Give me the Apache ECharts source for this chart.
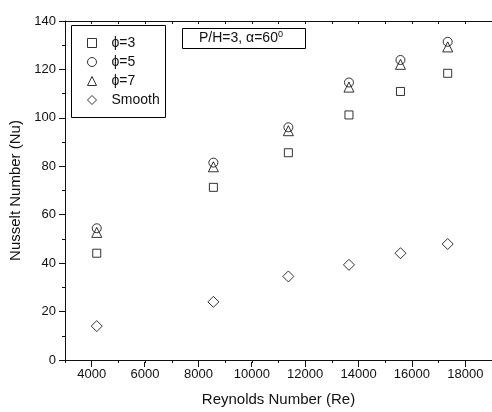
<!DOCTYPE html>
<html>
<head>
<meta charset="utf-8">
<script src="https://cdn.jsdelivr.net/npm/echarts@6/dist/echarts.min.js"></script>
<style>
  html, body { margin: 0; padding: 0; background: #fff; }
  #chart { width: 492px; height: 412px; }
</style>
</head>
<body>
<div id="chart"></div>
<script>
// ---- data ----
const reynolds = [4190, 8560, 11370, 13640, 15570, 17340];
const phi3 = [44.1, 71.3, 85.6, 101.2, 110.9, 118.4];
const phi5 = [54.4, 81.5, 96.1, 114.6, 123.9, 131.4];
const phi7 = [52.7, 79.8, 94.7, 112.7, 122.1, 129.3];
const smooth = [14.0, 24.0, 34.5, 39.3, 44.1, 47.9];
const seriesNames = ['\u03D5=3', '\u03D5=5', '\u03D5=7', 'Smooth'];
const xMajorTicks = [4000, 6000, 8000, 10000, 12000, 14000, 16000, 18000];

const FONT = 'Liberation Sans, Arial, sans-serif';
const INK = '#111';

function pairs(ys) { return reynolds.map((x, i) => [x, ys[i]]); }

const chart = echarts.init(document.getElementById('chart'), null, { renderer: 'canvas' });

const markerStyle = { color: 'rgba(0,0,0,0)', borderColor: '#000', borderWidth: 1 };

const grid = { left: 64, right: 0, top: 21, bottom: 50 };

chart.setOption({
  animation: false,
  backgroundColor: '#fff',
  textStyle: { fontFamily: FONT },
  grid: [Object.assign({}, grid), Object.assign({}, grid)],
  xAxis: [
    {
      gridIndex: 0, type: 'value', position: 'bottom',
      min: 3000, max: 19000, interval: 1000,
      axisLine: { show: true, lineStyle: { color: INK, width: 1 } },
      axisTick: { show: true, inside: false, length: 3, lineStyle: { color: INK } },
      axisLabel: { show: true, customValues: xMajorTicks, color: INK, fontSize: 13, fontFamily: FONT, margin: 8,
                   formatter: v => String(v) },
      splitLine: { show: false },
      name: 'Reynolds Number (Re)', nameLocation: 'middle', nameGap: 32,
      nameTextStyle: { color: INK, fontSize: 15, fontFamily: FONT }
    },
    {
      gridIndex: 0, type: 'value', position: 'top',
      min: 3000, max: 19000, interval: 1000,
      axisLine: { show: true, lineStyle: { color: INK, width: 1 } },
      axisTick: { show: true, inside: true, length: 3, lineStyle: { color: INK } },
      axisLabel: { show: false },
      splitLine: { show: false }
    },
    {
      gridIndex: 1, type: 'value', position: 'bottom',
      min: 3000, max: 19000,
      axisLine: { show: false },
      axisTick: { show: true, inside: false, length: 5, customValues: xMajorTicks, lineStyle: { color: INK } },
      axisLabel: { show: false },
      splitLine: { show: false }
    }
  ],
  yAxis: [
    {
      gridIndex: 0, type: 'value',
      min: 0, max: 140, interval: 20,
      axisLine: { show: true, lineStyle: { color: INK, width: 1 } },
      axisTick: { show: true, inside: false, length: 6, lineStyle: { color: INK } },
      minorTick: { show: true, splitNumber: 2, length: 3, lineStyle: { color: INK } },
      axisLabel: { color: INK, fontSize: 13, fontFamily: FONT, margin: 9 },
      splitLine: { show: false },
      name: 'Nusselt Number (Nu)', nameLocation: 'middle', nameGap: 42,
      nameTextStyle: { color: INK, fontSize: 15, fontFamily: FONT }
    },
    {
      gridIndex: 1, type: 'value', min: 0, max: 140, show: false
    }
  ],
  legend: {
    orient: 'vertical', left: 87, top: 36,
    itemWidth: 9, itemHeight: 9, itemGap: 5, padding: 0,
    data: seriesNames,
    itemStyle: { color: 'rgba(0,0,0,0)', borderColor: '#000', borderWidth: 1 },
    textStyle: { color: INK, fontSize: 14, fontFamily: FONT, padding: [0, 0, 0, 10] }
  },
  graphic: [
    { type: 'rect', left: 71, top: 25, shape: { width: 94, height: 92 },
      style: { fill: 'rgba(0,0,0,0)', stroke: '#000', lineWidth: 1 }, z: 10 },
    { type: 'rect', left: 182, top: 28, shape: { width: 123, height: 20 },
      style: { fill: 'rgba(0,0,0,0)', stroke: '#000', lineWidth: 1 }, z: 10 },
    { type: 'text', left: 199, top: 30, z: 10,
      style: {
        text: '{a|P/H=3, \u03B1=60}{s|0}',
        rich: {
          a: { fontSize: 14, fontFamily: FONT, fill: INK, lineHeight: 16 },
          s: { fontSize: 9, fontFamily: FONT, fill: INK, verticalAlign: 'top', padding: [0, 0, 7, 0] }
        }
      } }
  ],
  series: [
    { name: seriesNames[0], type: 'scatter', xAxisIndex: 0, yAxisIndex: 0, symbol: 'rect', symbolSize: 8, itemStyle: markerStyle, data: pairs(phi3) },
    { name: seriesNames[1], type: 'scatter', xAxisIndex: 0, yAxisIndex: 0, symbol: 'circle', symbolSize: 9, itemStyle: markerStyle, data: pairs(phi5) },
    { name: seriesNames[2], type: 'scatter', xAxisIndex: 0, yAxisIndex: 0, symbol: 'triangle', symbolSize: 10, itemStyle: markerStyle, data: pairs(phi7) },
    { name: seriesNames[3], type: 'scatter', xAxisIndex: 0, yAxisIndex: 0, symbol: 'diamond', symbolSize: 11, itemStyle: markerStyle, data: pairs(smooth) }
  ]
});
</script>
</body>
</html>
